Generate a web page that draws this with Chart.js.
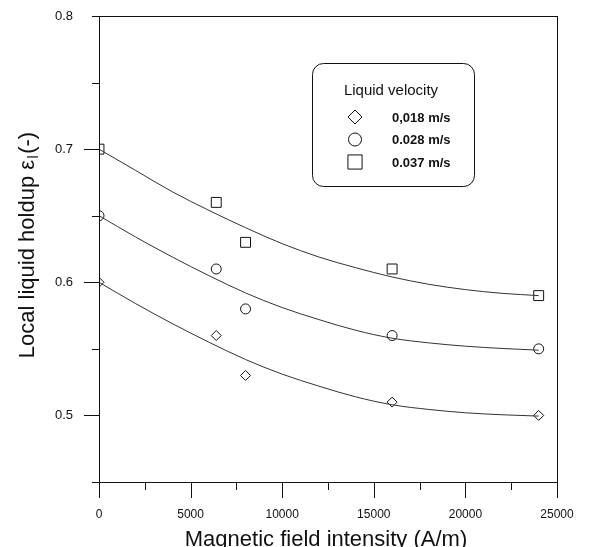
<!DOCTYPE html>
<html>
<head>
<meta charset="utf-8">
<script src="https://cdn.jsdelivr.net/npm/chart.js@4"></script>
<style>
  html, body { margin: 0; padding: 0; background: #fff; }
  #wrap { width: 589px; height: 547px; }
</style>
</head>
<body>
<div id="wrap"><canvas id="holdup_chart" width="589" height="547"></canvas></div>
<script>
/* global Chart */

// measured points
const field = [0, 6400, 8000, 16000, 24000];
const holdup_018 = [0.60, 0.56, 0.53, 0.51, 0.50];
const holdup_028 = [0.65, 0.61, 0.58, 0.56, 0.55];
const holdup_037 = [0.70, 0.66, 0.63, 0.61, 0.59];

// fitted curves
const fit_field = [0, 2000, 4000, 6000, 8000, 10000, 12000, 14000, 16000, 18000, 20000, 22000, 24000];
const fit_018 = [0.600, 0.584, 0.569, 0.555, 0.542, 0.531, 0.522, 0.514, 0.508, 0.5045, 0.502, 0.5005, 0.4995];
const fit_028 = [0.650, 0.634, 0.619, 0.605, 0.592, 0.581, 0.572, 0.564, 0.558, 0.5545, 0.552, 0.5503, 0.549];
const fit_037 = [0.700, 0.684, 0.668, 0.654, 0.641, 0.629, 0.619, 0.611, 0.604, 0.5985, 0.5945, 0.5917, 0.590];

const legend_labels = ["0,018 m/s", "0.028 m/s", "0.037 m/s"];
const x_tick_labels = ["0", "5000", "10000", "15000", "20000", "25000"];
const y_tick_labels = ["0.5", "0.6", "0.7", "0.8"];

const ink = "#111";
const curve_ink = "#333";
const FONT = "'Liberation Sans', Arial, sans-serif";

function pts(xs, ys) {
    return xs.map((x, i) => ({ x: x, y: ys[i] }));
}

const markers = [
    { style: "rectRot", radius: 5, legendRadius: 7 },
    { style: "circle", radius: 5, legendRadius: 6.5 },
    { style: "rect", radius: 7, legendRadius: 10 },
];

const datasets = [];
[fit_018, fit_028, fit_037].forEach(fit => {
    datasets.push({
        data: pts(fit_field, fit),
        showLine: true,
        borderColor: curve_ink,
        borderWidth: 1,
        pointRadius: 0,
        cubicInterpolationMode: "monotone",
        fill: false,
    });
});
[holdup_018, holdup_028, holdup_037].forEach((ys, i) => {
    datasets.push({
        data: pts(field, ys),
        showLine: false,
        pointStyle: markers[i].style,
        pointRadius: markers[i].radius,
        borderColor: ink,
        borderWidth: 1,
        backgroundColor: "rgba(0,0,0,0)",
    });
});

function noPadding(scale) {
    scale.paddingLeft = 0;
    scale.paddingRight = 0;
    scale.paddingTop = 0;
    scale.paddingBottom = 0;
}

// frame, tick marks, titles and the rounded legend box
const decorations = {
    id: "decorations",
    afterDraw(chart) {
        const ctx = chart.ctx;
        const xs = chart.scales.x;
        const ys = chart.scales.y;
        const a = chart.chartArea;
        ctx.save();
        ctx.strokeStyle = ink;
        ctx.lineWidth = 1;
        ctx.beginPath();
        // left axis + right frame
        ctx.moveTo(a.left + 0.5, a.top); ctx.lineTo(a.left + 0.5, a.bottom + 16);
        ctx.moveTo(a.right + 0.5, a.top); ctx.lineTo(a.right + 0.5, a.bottom + 16);
        // bottom axis + top frame
        ctx.moveTo(a.left - 7, a.bottom + 0.5); ctx.lineTo(a.right, a.bottom + 0.5);
        ctx.moveTo(a.left - 7, a.top + 0.5); ctx.lineTo(a.right, a.top + 0.5);
        // x ticks
        xs.ticks.forEach(t => {
            const px = Math.round(xs.getPixelForValue(t.value)) + 0.5;
            const len = t.value % 5000 === 0 ? 16 : 8;
            ctx.moveTo(px, a.bottom); ctx.lineTo(px, a.bottom + len);
        });
        // y ticks
        ys.ticks.forEach(t => {
            const py = Math.round(ys.getPixelForValue(t.value)) + 0.5;
            const major = Math.abs(t.value * 10 - Math.round(t.value * 10)) < 1e-6;
            const len = major && t.value < 0.79 ? 15 : 7;
            ctx.moveTo(a.left, py); ctx.lineTo(a.left - len, py);
        });
        ctx.stroke();

        ctx.fillStyle = ink;
        // x title
        ctx.font = "22px " + FONT;
        ctx.textAlign = "center";
        ctx.textBaseline = "alphabetic";
        ctx.fillText("Magnetic field intensity (A/m)", 326, 546);

        // y title with subscript
        ctx.save();
        ctx.translate(34, 245);
        ctx.rotate(-Math.PI / 2);
        const main = "Local liquid holdup \u03b5";
        const sub = "l";
        const tail = "(-)";
        ctx.font = "22px " + FONT;
        const w1 = ctx.measureText(main).width;
        const w3 = ctx.measureText(tail).width;
        ctx.font = "14px " + FONT;
        const w2 = ctx.measureText(sub).width + 3;
        const x0 = -(w1 + w2 + w3) / 2;
        ctx.textAlign = "left";
        ctx.font = "22px " + FONT;
        ctx.fillText(main, x0, 0);
        ctx.font = "14px " + FONT;
        ctx.fillText(sub, x0 + w1 + 1.5, 4);
        ctx.font = "22px " + FONT;
        ctx.fillText(tail, x0 + w1 + w2, 0);
        ctx.restore();

        // legend box
        ctx.beginPath();
        ctx.roundRect(312.5, 63.5, 162, 123, 11);
        ctx.stroke();
        ctx.font = "15px " + FONT;
        ctx.textAlign = "center";
        ctx.fillText("Liquid velocity", 391, 95);
        const rows = [117, 139.5, 162];
        legend_labels.forEach((lab, i) => {
            ctx.fillStyle = "rgba(0,0,0,0)";
            ctx.strokeStyle = ink;
            Chart.helpers.drawPoint(ctx, {
                pointStyle: markers[i].style,
                radius: markers[i].legendRadius,
                borderWidth: 1,
                rotation: 0,
            }, 355, rows[i]);
            ctx.fillStyle = ink;
            ctx.textAlign = "left";
            ctx.font = "bold 13px " + FONT;
            ctx.fillText(lab, 392, rows[i] + 4.5);
        });
        ctx.restore();
    },
};

new Chart(document.getElementById("holdup_chart"), {
    type: "scatter",
    data: { datasets: datasets },
    options: {
        responsive: false,
        animation: false,
        events: [],
        layout: { padding: { top: 16, right: 32, left: 0, bottom: 0 } },
        plugins: {
            legend: { display: false },
            tooltip: { enabled: false },
        },
        scales: {
            x: {
                type: "linear",
                min: 0,
                max: 25000,
                grid: { display: false, drawTicks: false },
                border: { display: false },
                afterFit(scale) { scale.height = 65; noPadding(scale); },
                ticks: {
                    stepSize: 2500,
                    padding: 25,
                    maxRotation: 0,
                    autoSkip: false,
                    color: ink,
                    font: { size: 12, family: FONT },
                    callback: v => (v % 5000 === 0 ? x_tick_labels[v / 5000] : ""),
                },
            },
            y: {
                type: "linear",
                min: 0.45,
                max: 0.8,
                grid: { display: false, drawTicks: false },
                border: { display: false },
                afterFit(scale) { scale.width = 99; noPadding(scale); },
                ticks: {
                    stepSize: 0.05,
                    padding: 26,
                    autoSkip: false,
                    color: ink,
                    font: { size: 13, family: FONT },
                    callback: v => {
                        const k = Math.round(v * 10) - 5;
                        const major = Math.abs(v * 10 - Math.round(v * 10)) < 1e-6;
                        return major && k >= 0 ? y_tick_labels[k] : "";
                    },
                },
            },
        },
    },
    plugins: [decorations],
});
</script>
</body>
</html>
